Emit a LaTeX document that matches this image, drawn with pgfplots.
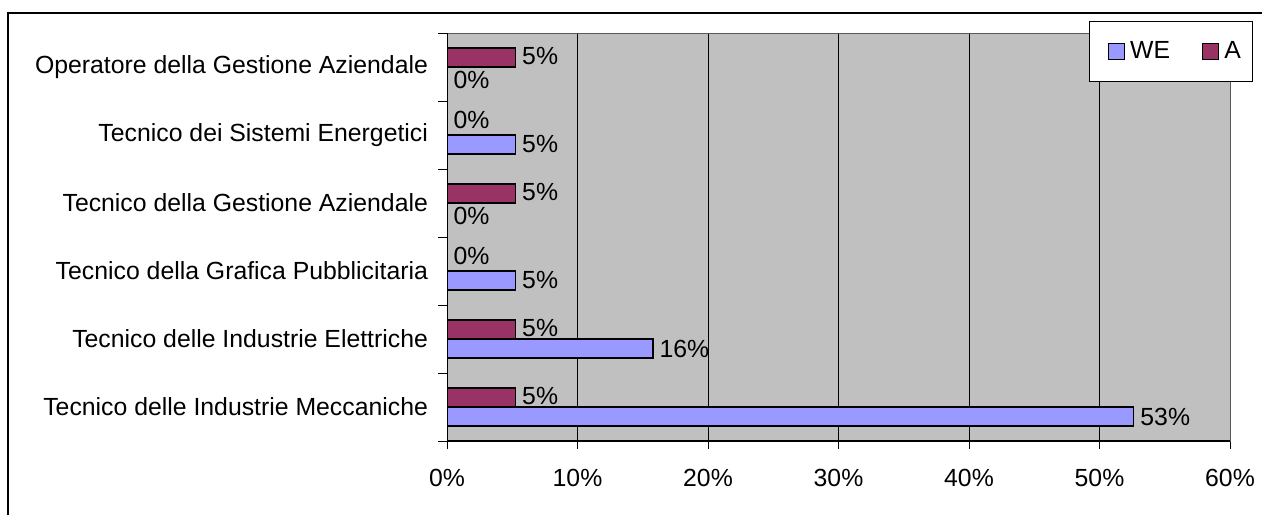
\documentclass[border=0pt]{standalone}
\usepackage{fontspec}
\setmainfont{Liberation Sans}
\usepackage{pgfplots}
\pgfplotsset{compat=1.18}
\definecolor{weblue}{HTML}{9999FF}
\definecolor{aplum}{HTML}{993366}
\definecolor{bggray}{HTML}{C0C0C0}
\begin{document}
\begin{tikzpicture}
\useasboundingbox (0,0) rectangle (631pt,257.5pt);
\draw[line width=0.6pt] (4pt,0) -- (4pt,251pt) -- (640pt,251pt);
\begin{axis}[
  at={(223.5pt,37pt)}, anchor=south west,
  scale only axis, width=391.5pt, height=204pt,
  xbar, bar width=9.5pt,
  xmin=0, xmax=60, ymin=-0.5, ymax=5.5,
  axis background/.style={fill=bggray},
  axis line style={draw=gray!70!black, line width=0.5pt},
  font=\fontsize{12.4}{14}\selectfont,
  /pgf/number format/assume math mode=true,
  tick pos=left,
  xtick={0,10,...,60},
  xticklabels={0\%,10\%,20\%,30\%,40\%,50\%,60\%},
  xmajorgrids, major grid style={black, line width=0.5pt},
  tick align=outside, major tick length=4pt,
  xtick style={black, line width=0.5pt},
  xticklabel style={yshift=-6.5pt},
  ytick={0,1,2,3,4,5},
  yticklabels={Tecnico delle Industrie Meccaniche,Tecnico delle Industrie Elettriche,Tecnico della Grafica Pubblicitaria,Tecnico della Gestione Aziendale,Tecnico dei Sistemi Energetici,Operatore della Gestione Aziendale},
  major y tick style={draw=none},
  minor ytick={-0.5,0.5,...,5.5},
  minor tick length=4.5pt,
  minor y tick style={black, line width=0.5pt},
  yticklabel style={xshift=-2pt},
  visualization depends on={rawx \as \rawxval},
  nodes near coords={\pgfmathprintnumber[fixed,precision=0]{\pgfplotspointmeta}\%},
  every node near coord/.append style={anchor=west, black, inner xsep=3pt, font=\fontsize{12.4}{14}\selectfont},
  legend columns=2,
  legend style={at={(1.0294,1.0294)}, anchor=north east, draw=black, fill=white,
    line width=0.6pt, inner xsep=3pt, inner ysep=8pt,
    font=\fontsize{12.4}{14}\selectfont,
    /tikz/every even column/.append style={column sep=7pt},
    nodes={inner xsep=2.75pt}},
  legend image code/.code={\path (-6pt,0pt); \draw[#1, draw=black, line width=0.6pt] (0pt,-4pt) rectangle (8pt,4pt);},
]
\addplot[fill=weblue, draw=black, line width=0.6pt, bar shift=-4.75pt,
  every node near coord/.append style={yshift={(\rawxval==0)*(-1.5pt)}}]
  coordinates {(52.63,0) (15.79,1) (5.26,2) (0,3) (5.26,4) (0,5)};
\addplot[fill=aplum, draw=black, line width=0.6pt, bar shift=4.75pt,
  every node near coord/.append style={yshift={(\rawxval==0)*(2.5pt)+0.5pt}}]
  coordinates {(5.26,0) (5.26,1) (0,2) (5.26,3) (0,4) (5.26,5)};
\legend{WE,A}
\draw[black, line width=0.6pt] (rel axis cs:0,1) -- (rel axis cs:0,0) -- (rel axis cs:1,0);
\end{axis}
\end{tikzpicture}
\end{document}
